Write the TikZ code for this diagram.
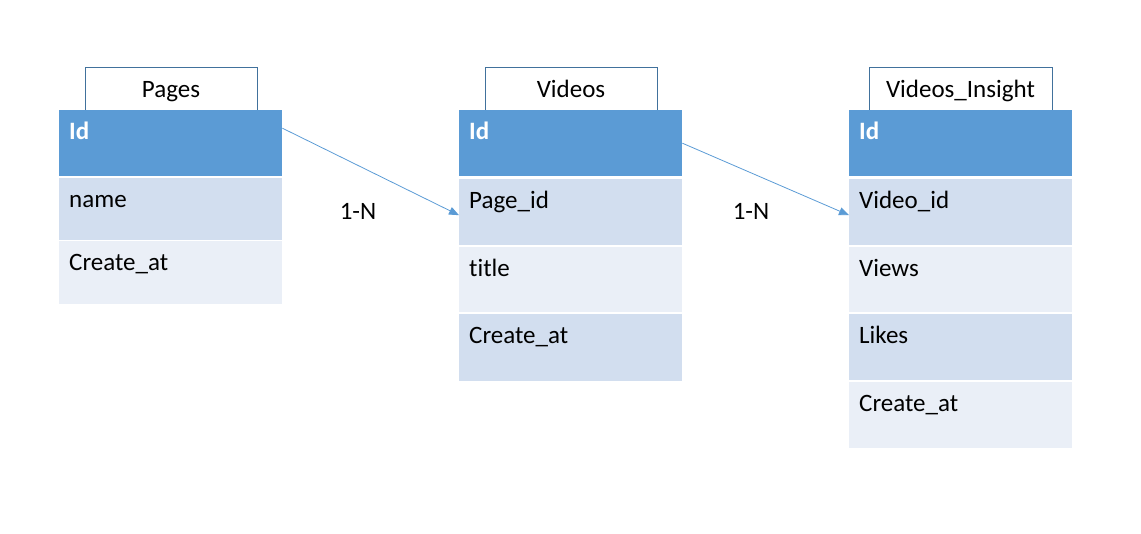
\documentclass[tikz,border=0pt]{standalone}
\usepackage{fontspec}
\setmainfont{Carlito}[Ligatures=NoCommon]
\usetikzlibrary{arrows.meta}
\definecolor{hdrblue}{HTML}{5B9BD5}
\definecolor{rowdark}{HTML}{D2DEEF}
\definecolor{rowlight}{HTML}{EAEFF7}
\definecolor{nameline}{HTML}{41719C}

\begin{document}
\begin{tikzpicture}[x=1pt, y=-1pt, font=\fontsize{25}{29}\selectfont,
    tabname/.style={draw=nameline, line width=1pt, minimum width=172pt, minimum height=44pt,
                    text height=16pt, text depth=0pt, inner sep=0pt},
    cell/.style={anchor=north west, minimum width=223pt, text width=203pt, inner xsep=10pt,
                 inner ysep=0pt, text height=29pt, text depth=#1, align=left},
    idcell/.style={cell=37pt, fill=hdrblue, text=white, font=\fontsize{25}{29}\selectfont\bfseries},
    rowa/.style={cell=#1, fill=rowdark},
    rowb/.style={cell=#1, fill=rowlight},
    link/.style={draw=hdrblue, line width=0.8pt, -{Triangle[length=10pt,width=8pt]}}]
\useasboundingbox (0,0) rectangle (1141,534);

% Pages
\node[tabname] (pages) at (171,90) {Pages};
\node[idcell] (pages-id) at (59,110) {Id};
\node[rowa=33pt] (pages-name) at (59,178) {name};
\node[rowb=34pt] (pages-create) at (59,241) {Create\_at};

% Videos
\node[tabname] (videos) at (571,90) {Videos};
\node[idcell] (videos-id) at (459,110) {Id};
\node[rowa=37pt] (videos-page) at (459,179) {Page\_id};
\node[rowb=36pt] (videos-title) at (459,247) {title};
\node[rowa=38pt] (videos-create) at (459,314) {Create\_at};

% Videos_Insight
\node[tabname, minimum width=183pt] (insight) at (960.5,90) {Videos\_Insight};
\node[idcell] (insight-id) at (849,110) {Id};
\node[rowa=37pt] (insight-video) at (849,179) {Video\_id};
\node[rowb=36pt] (insight-views) at (849,247) {Views};
\node[rowa=37pt] (insight-likes) at (849,314) {Likes};
\node[rowb=37pt] (insight-create) at (849,382) {Create\_at};

% relations
\draw[link] ([yshift=15pt]pages-id.east) -- ([yshift=-3pt]videos-page.west);
\draw[link] (videos-id.east) -- ([yshift=-3pt]insight-video.west);
\node (rel1) at (358,211) {1-N};
\node (rel2) at (751,211) {1-N};
\end{tikzpicture}
\end{document}
